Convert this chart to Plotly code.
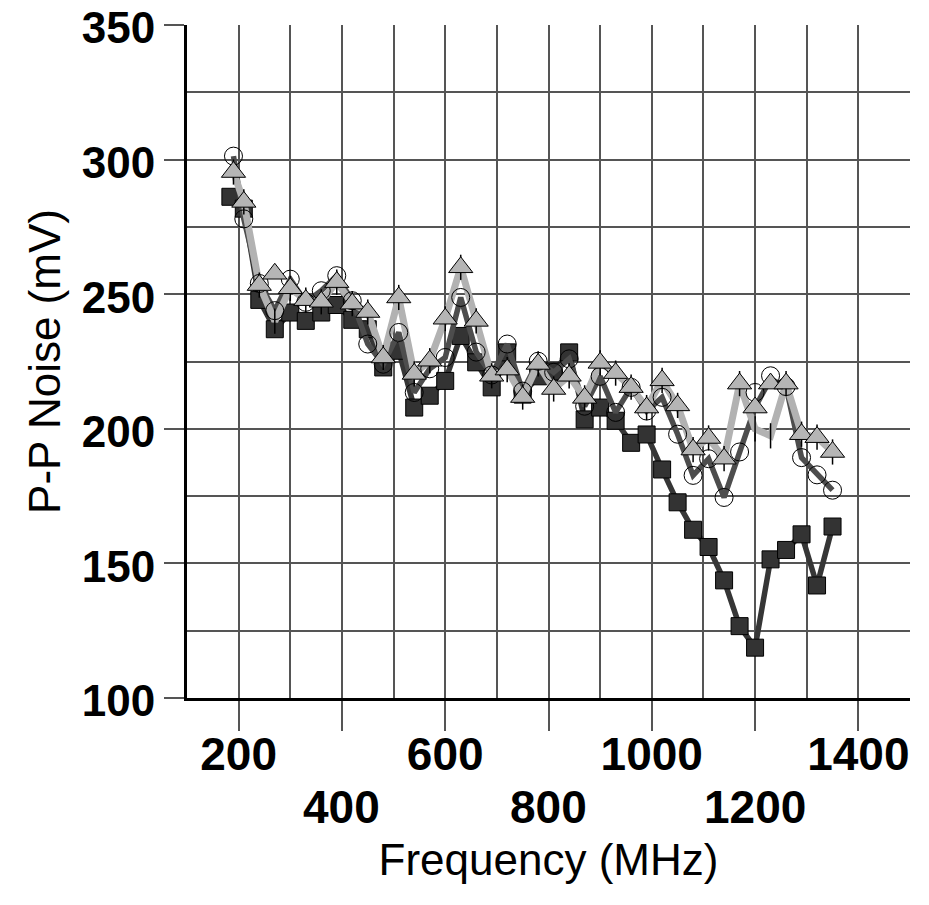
import plotly.graph_objects as go

# Frequencies (MHz)
freq = [190, 210, 240, 270, 300, 330, 360, 390, 420, 450, 480, 510, 540, 570, 600,
        630, 660, 690, 720, 750, 780, 810, 840, 870, 900, 930, 960, 990, 1020, 1050,
        1080, 1110, 1140, 1170, 1200, 1230, 1260, 1290, 1320, 1350]
freq_sq = [184] + freq[1:]

# Series values (mV)
squares = [286.2, 281.8, 247.9, 237.0, 243.2, 240.1, 243.2, 246.0, 240.5, 237.0,
           222.8, 229.0, 207.9, 212.3, 217.8, 234.5, 224.7, 215.4, 228.4, 212.7,
           219.5, 221.3, 228.4, 203.5, 207.9, 203.0, 194.8, 197.9, 184.9, 172.7,
           162.5, 156.1, 143.7, 126.7, 118.7, 151.5, 155.0, 160.8, 141.8, 163.7]
circles = [301.3, 278.0, 254.0, 243.9, 255.6, 247.0, 251.3, 256.9, 247.6, 231.5,
           224.0, 235.8, 213.5, 222.3, 226.5, 248.8, 228.5, 220.0, 231.5, 214.0,
           225.1, 221.0, 226.0, 208.4, 219.5, 206.1, 215.4, 206.6, 211.7, 198.0,
           182.7, 188.9, 174.5, 191.4, 213.5, 219.7, 215.7, 189.3, 182.9, 177.2]
mid_line = [301.3, 278.0, 254.0, 244.0, 255.6, 247.0, 251.3, 256.9, 247.6, 231.5,
            224.0, 235.8, 213.5, 222.3, 226.5, 248.8, 228.5, 220.0, 231.5, 214.0,
            225.1, 221.0, 226.0, 208.4, 219.5, 206.1, 215.4, 206.6, 211.7, 198.0,
            182.7, 188.9, 174.5, 191.4, 208.0, 218.5, 215.7, 189.3, 182.9, 177.2]
triangles = [295.4, 284.3, 253.4, 257.6, 252.2, 247.8, 247.2, 254.5, 246.5, 243.4,
             226.5, 248.8, 220.4, 225.3, 240.9, 260.0, 240.1, 219.7, 222.0, 211.8,
             224.1, 214.8, 219.7, 211.5, 224.5, 220.7, 215.5, 207.9, 218.0, 208.7,
             192.3, 196.6, 188.9, 216.8, 207.9, 216.8, 216.8, 198.0, 196.9, 191.4]
light_line = [295.4, 284.3, 253.4, 240.0, 252.2, 247.8, 247.2, 254.5, 246.5, 243.4,
              226.5, 248.8, 220.4, 225.3, 240.9, 260.0, 240.1, 219.7, 222.0, 211.8,
              224.1, 214.8, 219.7, 211.5, 224.5, 220.7, 215.5, 207.9, 218.0, 208.7,
              192.3, 196.6, 188.9, 216.8, 200.0, 197.4, 216.8, 198.0, 196.9, 191.4]

x_tickvals = [200, 400, 600, 800, 1000, 1200, 1400]
x_ticktext = ["200", "", "600", "", "1000", "", "1400"]
x_lower_vals = [400, 800, 1200]
x_lower_text = ["400", "800", "1200"]
y_tickvals = [100, 150, 200, 250, 300, 350]
y_ticktext = ["100", "150", "200", "250", "300", "350"]

fig = go.Figure()

fig.add_trace(go.Scatter(
    x=freq_sq, y=squares, mode="lines+markers",
    line=dict(color="#363636", width=5.5),
    marker=dict(symbol="square", size=17, color="#333333",
                line=dict(color="#000000", width=1)),
    showlegend=False))
fig.add_trace(go.Scatter(
    x=freq, y=mid_line, mode="lines",
    line=dict(color="#4d4d4d", width=5.5),
    showlegend=False))
fig.add_trace(go.Scatter(
    x=freq, y=light_line, mode="lines+markers",
    line=dict(color="#b2b2b2", width=7),
    marker=dict(symbol="line-ns", size=18, color="#000000",
                line=dict(color="#000000", width=1.5)),
    showlegend=False))
fig.add_trace(go.Scatter(
    x=freq, y=circles, mode="markers",
    marker=dict(symbol="circle-open", size=18, color="#000000",
                line=dict(color="#000000", width=1)),
    showlegend=False))
fig.add_trace(go.Scatter(
    x=freq, y=triangles, mode="markers",
    marker=dict(symbol="triangle-up", size=21, color="#b5b5b5",
                line=dict(color="#000000", width=1)),
    showlegend=False))

font_family = "Liberation Sans, Arial, sans-serif"
grid_col = "#555555"
tick_font = dict(size=46, weight="bold", color="black", family=font_family)
ytick_font = dict(size=44, weight="bold", color="black", family=font_family)

for xv, xt in zip(x_lower_vals, x_lower_text):
    fig.add_annotation(x=xv, xref="x", y=0, yref="paper", text=xt,
                       showarrow=False, xanchor="center", yanchor="middle",
                       yshift=-109, font=tick_font)

fig.update_layout(
    width=913, height=889,
    margin=dict(l=179, r=11, t=17, b=199),
    paper_bgcolor="white", plot_bgcolor="white",
    font=dict(family=font_family, color="black"),
    xaxis=dict(
        range=[100, 1500], tickvals=x_tickvals, ticktext=x_ticktext,
        automargin=False, ticklabeloverflow="allow",
        ticks="outside", ticklen=30, tickwidth=1.5, tickcolor=grid_col,
        ticklabelstandoff=-16,
        showline=True, linewidth=3, linecolor="black",
        showgrid=True, gridcolor=grid_col, gridwidth=1.5, zeroline=False,
        minor=dict(tick0=100, dtick=100, showgrid=True, gridcolor=grid_col,
                   gridwidth=1.5, ticks=""),
        tickfont=tick_font,
        title=dict(text="Frequency (MHz)", font=dict(size=44, color="black"),
                   standoff=65),
    ),
    yaxis=dict(
        range=[100, 350.02], tickvals=y_tickvals, ticktext=y_ticktext,
        automargin=False, ticklabeloverflow="allow",
        ticks="outside", ticklen=20, tickwidth=1.5, tickcolor=grid_col,
        ticklabelshift=3,
        showline=True, linewidth=3, linecolor="black",
        showgrid=True, gridcolor=grid_col, gridwidth=1.5, zeroline=False,
        minor=dict(tick0=100, dtick=25, showgrid=True, gridcolor=grid_col,
                   gridwidth=1.5, ticks=""),
        tickfont=ytick_font,
        title=dict(text="P-P Noise (mV)", font=dict(size=44, color="black"),
                   standoff=8),
    ),
)

fig.write_html("out.html")
